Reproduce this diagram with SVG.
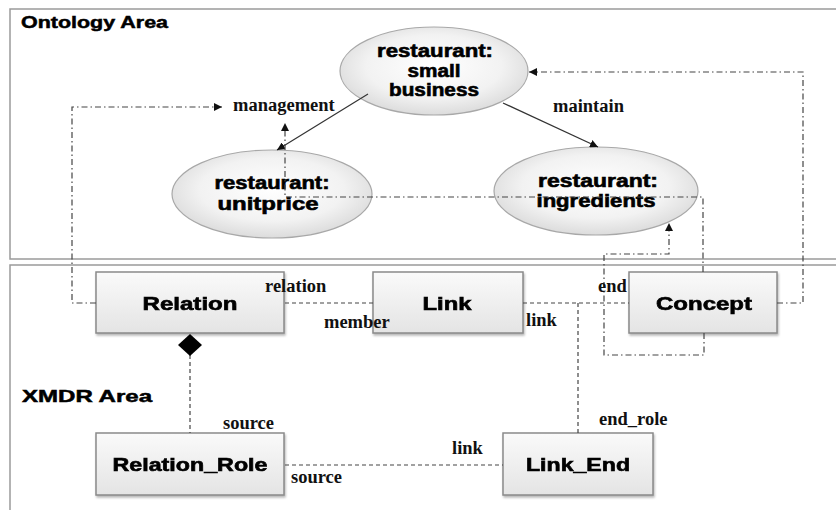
<svg xmlns="http://www.w3.org/2000/svg" width="836" height="510" viewBox="0 0 836 510">
<style>
.area{fill:none;stroke:#9a9a9a;stroke-width:1.5}
.areat{font-family:"Liberation Sans",Arial,sans-serif;font-weight:bold;font-size:17px;fill:#000;stroke:#000;stroke-width:0.5}
.ell{fill:url(#eg);stroke:#a8a8a8;stroke-width:1.2}
.box{fill:url(#bg);stroke:#8a8a8a;stroke-width:1.5}
.nt{font-family:"Liberation Sans",Arial,sans-serif;font-weight:bold;font-size:18px;fill:#000;stroke:#000;stroke-width:0.6;text-anchor:middle}
.lb{font-family:"Liberation Serif","Times New Roman",serif;font-weight:bold;font-size:18.5px;fill:#111}
.solid{fill:none;stroke:#333;stroke-width:1.3}
.dash{fill:none;stroke:#444;stroke-width:1.2;stroke-dasharray:4,3}
.dd{fill:none;stroke:#444;stroke-width:1.2;stroke-dasharray:6,3,1.5,3}
</style>
<defs>
<radialGradient id="eg" cx="50%" cy="45%" r="60%">
<stop offset="0" stop-color="#ffffff"/>
<stop offset="0.6" stop-color="#f2f2f2"/>
<stop offset="1" stop-color="#d6d6d6"/>
</radialGradient>
<linearGradient id="bg" x1="0" y1="0" x2="0" y2="1">
<stop offset="0" stop-color="#fafafa"/>
<stop offset="1" stop-color="#e4e4e4"/>
</linearGradient>
<filter id="sh" x="-10%" y="-10%" width="120%" height="130%">
<feDropShadow dx="1" dy="2" stdDeviation="1.2" flood-color="#888" flood-opacity="0.6"/>
</filter>
<marker id="ar" viewBox="0 0 10 10" refX="10" refY="5" markerWidth="8" markerHeight="8" markerUnits="userSpaceOnUse" orient="auto">
<path d="M0,0 L10,5 L0,10 z" fill="#111"/>
</marker>
</defs>

<g id="areas">
<rect class="area" x="10" y="9" width="840" height="250"/>
<text class="areat" x="21" y="28" textLength="147" lengthAdjust="spacingAndGlyphs">Ontology Area</text>
<rect class="area" x="10" y="265" width="840" height="260"/>
<text class="areat" x="22" y="402" textLength="130" lengthAdjust="spacingAndGlyphs">XMDR  Area</text>
</g>

<g id="small_business">
<ellipse class="ell" cx="434" cy="71" rx="94" ry="44"/>
<text class="nt" x="435" y="57" textLength="116" lengthAdjust="spacingAndGlyphs">restaurant:</text>
<text class="nt" x="434" y="77" textLength="53" lengthAdjust="spacingAndGlyphs">small</text>
<text class="nt" x="434" y="96" textLength="90" lengthAdjust="spacingAndGlyphs">business</text>
</g>

<g id="unitprice">
<ellipse class="ell" cx="272" cy="194" rx="100" ry="44"/>
<text class="nt" x="272" y="189" textLength="115" lengthAdjust="spacingAndGlyphs">restaurant:</text>
<text class="nt" x="268" y="210" textLength="101" lengthAdjust="spacingAndGlyphs">unitprice</text>
</g>

<g id="ingredients">
<ellipse class="ell" cx="596" cy="191" rx="102" ry="44"/>
<text class="nt" x="598" y="187" textLength="120" lengthAdjust="spacingAndGlyphs">restaurant:</text>
<text class="nt" x="596" y="207" textLength="119" lengthAdjust="spacingAndGlyphs">ingredients</text>
</g>

<g id="relation" filter="url(#sh)">
<rect class="box" x="96" y="272" width="188" height="61"/>
<text class="nt" x="190" y="310" textLength="95" lengthAdjust="spacingAndGlyphs">Relation</text>
</g>

<g id="link" filter="url(#sh)">
<rect class="box" x="373" y="272" width="150" height="61"/>
<text class="nt" x="447" y="310" textLength="49" lengthAdjust="spacingAndGlyphs">Link</text>
</g>

<g id="concept" filter="url(#sh)">
<rect class="box" x="629" y="272" width="148" height="61"/>
<text class="nt" x="704" y="310" textLength="96" lengthAdjust="spacingAndGlyphs">Concept</text>
</g>

<g id="relation_role" filter="url(#sh)">
<rect class="box" x="96" y="433" width="188" height="62"/>
<text class="nt" x="190" y="471" textLength="155" lengthAdjust="spacingAndGlyphs">Relation_Role</text>
</g>

<g id="link_end" filter="url(#sh)">
<rect class="box" x="503" y="433" width="150" height="62"/>
<text class="nt" x="578" y="471" textLength="104" lengthAdjust="spacingAndGlyphs">Link_End</text>
</g>

<g id="connectors">
<path class="solid" d="M368,94 L277,150" marker-end="url(#ar)"/>
<path class="solid" d="M503,103 L598,147" marker-end="url(#ar)"/>
<path class="dash" d="M285,303 H373"/>
<path class="dash" d="M523,303 H629"/>
<path class="dash" d="M578,303 V433"/>
<path class="dash" d="M285,465 H503"/>
<path class="dash" d="M190,355 V433"/>
<polygon points="190,334 202,345 190,356 178,345" fill="#000"/>
<path class="dd" d="M96,303 H72 V107 H222" marker-end="url(#ar)"/>
<path class="dd" d="M703,272 V197 H285 V123" marker-end="url(#ar)"/>
<path class="dd" d="M704,333 V355 H604 V254 H669 V223" marker-end="url(#ar)"/>
<path class="dd" d="M777,303 H803 V72 H529" marker-end="url(#ar)"/>
<text class="lb" x="233" y="111">management</text>
<text class="lb" x="553" y="112">maintain</text>
<text class="lb" x="265" y="292">relation</text>
<text class="lb" x="324" y="328">member</text>
<text class="lb" x="526" y="326">link</text>
<text class="lb" x="598" y="292">end</text>
<text class="lb" x="223" y="429">source</text>
<text class="lb" x="291" y="483">source</text>
<text class="lb" x="599" y="425">end_role</text>
<text class="lb" x="452" y="454">link</text>
</g>
</svg>
